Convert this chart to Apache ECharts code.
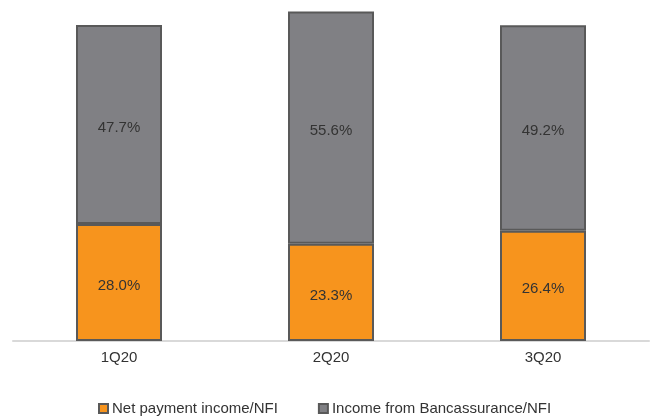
<!DOCTYPE html>
<html>
<head>
<meta charset="utf-8">
<script src="https://cdn.jsdelivr.net/npm/echarts@6/dist/echarts.min.js"></script>
<style>
  html, body { margin: 0; padding: 0; background: #fff; }
  #chart { width: 656px; height: 420px; }
</style>
</head>
<body>
<div id="chart"></div>
<script>
const quarters = ["1Q20", "2Q20", "3Q20"];
const netPayment = [28.0, 23.3, 26.4];
const bancassurance = [47.7, 55.6, 49.2];
const seriesNames = ["Net payment income/NFI", "Income from Bancassurance/NFI"];

const chart = echarts.init(document.getElementById("chart"));

const labelStyle = {
  show: true,
  position: "inside",
  color: "#333",
  fontFamily: "Liberation Sans, Arial, sans-serif",
  fontSize: 15,
  offset: [0, 3],
  formatter: (p) => p.value.toFixed(1) + "%"
};

chart.setOption({
  animation: false,
  textStyle: { fontFamily: "Liberation Sans, Arial, sans-serif" },
  grid: { left: 13, right: 7, top: 7, height: 334 },
  legend: {
    top: 396,
    left: 93,
    itemWidth: 9,
    itemHeight: 9,
    itemGap: 40,
    icon: "rect",
    textStyle: { color: "#333", fontSize: 15, padding: [0, 0, 0, -1] },
    data: seriesNames
  },
  xAxis: {
    type: "category",
    data: quarters,
    axisLine: { lineStyle: { color: "#d9d9d9", width: 2 } },
    axisTick: { show: false },
    axisLabel: { color: "#333", fontSize: 15, margin: 9 }
  },
  yAxis: {
    type: "value",
    min: 0,
    max: 80,
    show: false,
    splitLine: { show: false }
  },
  series: [
    {
      name: seriesNames[0],
      type: "bar",
      stack: "nfi",
      barWidth: 86,
      data: netPayment,
      itemStyle: { color: "#f7941d", borderColor: "#595959", borderWidth: 2 },
      label: labelStyle
    },
    {
      name: seriesNames[1],
      type: "bar",
      stack: "nfi",
      barWidth: 86,
      data: bancassurance,
      itemStyle: { color: "#808084", borderColor: "#595959", borderWidth: 2 },
      label: labelStyle
    }
  ]
});
</script>
</body>
</html>
